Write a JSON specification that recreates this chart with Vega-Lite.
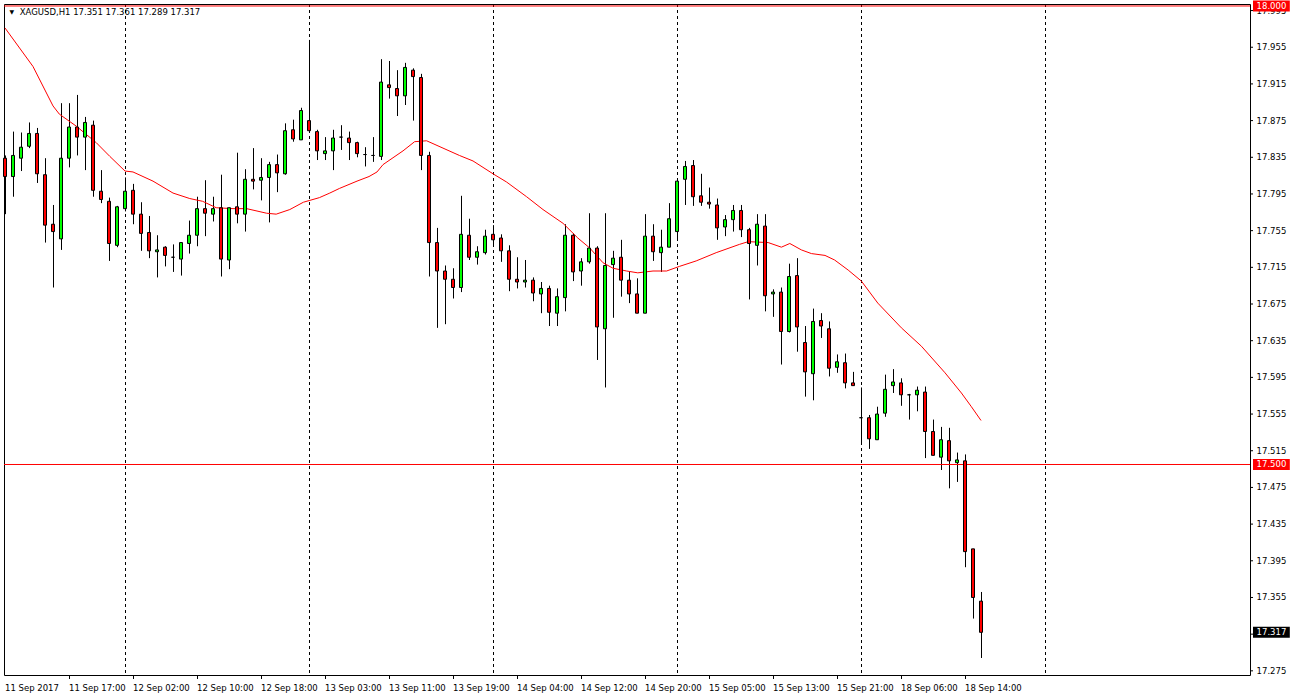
{
  "$schema": "https://vega.github.io/schema/vega-lite/v6.json",
  "width": 1246,
  "height": 671,
  "autosize": {"type": "none"},
  "padding": {"left": 4, "top": 4, "right": 43, "bottom": 23},
  "background": "white",
  "config": {"view": {"stroke": "black", "strokeWidth": 1}, "font": "DejaVu Sans"},
  "datasets": {
    "candles": [
      {"i":0,"o":17.834,"h":17.837,"l":17.773,"c":17.814},
      {"i":1,"o":17.814,"h":17.863,"l":17.792,"c":17.837},
      {"i":2,"o":17.834,"h":17.862,"l":17.820,"c":17.846},
      {"i":3,"o":17.847,"h":17.873,"l":17.845,"c":17.861},
      {"i":4,"o":17.861,"h":17.867,"l":17.807,"c":17.817},
      {"i":5,"o":17.816,"h":17.834,"l":17.742,"c":17.761},
      {"i":6,"o":17.762,"h":17.783,"l":17.693,"c":17.754},
      {"i":7,"o":17.746,"h":17.894,"l":17.734,"c":17.834},
      {"i":8,"o":17.834,"h":17.894,"l":17.824,"c":17.868},
      {"i":9,"o":17.868,"h":17.903,"l":17.837,"c":17.857},
      {"i":10,"o":17.857,"h":17.879,"l":17.821,"c":17.873},
      {"i":11,"o":17.870,"h":17.875,"l":17.792,"c":17.799},
      {"i":12,"o":17.798,"h":17.821,"l":17.785,"c":17.789},
      {"i":13,"o":17.787,"h":17.791,"l":17.722,"c":17.741},
      {"i":14,"o":17.739,"h":17.782,"l":17.737,"c":17.781},
      {"i":15,"o":17.779,"h":17.813,"l":17.776,"c":17.798},
      {"i":16,"o":17.799,"h":17.806,"l":17.762,"c":17.773},
      {"i":17,"o":17.773,"h":17.786,"l":17.733,"c":17.752},
      {"i":18,"o":17.753,"h":17.771,"l":17.725,"c":17.733},
      {"i":19,"o":17.732,"h":17.750,"l":17.704,"c":17.734},
      {"i":20,"o":17.737,"h":17.738,"l":17.716,"c":17.728},
      {"i":21,"o":17.726,"h":17.740,"l":17.710,"c":17.726},
      {"i":22,"o":17.724,"h":17.742,"l":17.706,"c":17.742},
      {"i":23,"o":17.741,"h":17.766,"l":17.730,"c":17.750},
      {"i":24,"o":17.750,"h":17.792,"l":17.738,"c":17.779},
      {"i":25,"o":17.779,"h":17.810,"l":17.749,"c":17.774},
      {"i":26,"o":17.773,"h":17.792,"l":17.765,"c":17.779},
      {"i":27,"o":17.780,"h":17.816,"l":17.705,"c":17.724},
      {"i":28,"o":17.723,"h":17.780,"l":17.713,"c":17.780},
      {"i":29,"o":17.781,"h":17.840,"l":17.763,"c":17.773},
      {"i":30,"o":17.773,"h":17.822,"l":17.754,"c":17.811},
      {"i":31,"o":17.811,"h":17.845,"l":17.800,"c":17.809},
      {"i":32,"o":17.810,"h":17.834,"l":17.788,"c":17.813},
      {"i":33,"o":17.813,"h":17.830,"l":17.764,"c":17.827},
      {"i":34,"o":17.827,"h":17.838,"l":17.797,"c":17.818},
      {"i":35,"o":17.817,"h":17.872,"l":17.816,"c":17.864},
      {"i":36,"o":17.865,"h":17.876,"l":17.852,"c":17.855},
      {"i":37,"o":17.854,"h":17.889,"l":17.854,"c":17.886},
      {"i":38,"o":17.875,"h":17.963,"l":17.862,"c":17.864},
      {"i":39,"o":17.863,"h":17.865,"l":17.832,"c":17.842},
      {"i":40,"o":17.839,"h":17.857,"l":17.832,"c":17.842},
      {"i":41,"o":17.842,"h":17.865,"l":17.821,"c":17.856},
      {"i":42,"o":17.857,"h":17.870,"l":17.843,"c":17.857},
      {"i":43,"o":17.856,"h":17.863,"l":17.832,"c":17.851},
      {"i":44,"o":17.851,"h":17.852,"l":17.835,"c":17.839},
      {"i":45,"o":17.838,"h":17.846,"l":17.825,"c":17.838},
      {"i":46,"o":17.837,"h":17.857,"l":17.830,"c":17.837},
      {"i":47,"o":17.836,"h":17.942,"l":17.832,"c":17.917},
      {"i":48,"o":17.914,"h":17.940,"l":17.899,"c":17.911},
      {"i":49,"o":17.910,"h":17.930,"l":17.880,"c":17.902},
      {"i":50,"o":17.902,"h":17.938,"l":17.892,"c":17.933},
      {"i":51,"o":17.930,"h":17.932,"l":17.875,"c":17.923},
      {"i":52,"o":17.922,"h":17.926,"l":17.821,"c":17.837},
      {"i":53,"o":17.837,"h":17.841,"l":17.705,"c":17.742},
      {"i":54,"o":17.742,"h":17.758,"l":17.649,"c":17.711},
      {"i":55,"o":17.711,"h":17.717,"l":17.653,"c":17.702},
      {"i":56,"o":17.702,"h":17.714,"l":17.681,"c":17.693},
      {"i":57,"o":17.693,"h":17.793,"l":17.688,"c":17.751},
      {"i":58,"o":17.750,"h":17.768,"l":17.723,"c":17.726},
      {"i":59,"o":17.726,"h":17.738,"l":17.718,"c":17.732},
      {"i":60,"o":17.731,"h":17.756,"l":17.729,"c":17.749},
      {"i":61,"o":17.751,"h":17.761,"l":17.738,"c":17.745},
      {"i":62,"o":17.747,"h":17.751,"l":17.721,"c":17.733},
      {"i":63,"o":17.733,"h":17.739,"l":17.689,"c":17.702},
      {"i":64,"o":17.702,"h":17.726,"l":17.692,"c":17.699},
      {"i":65,"o":17.699,"h":17.723,"l":17.693,"c":17.701},
      {"i":66,"o":17.701,"h":17.704,"l":17.678,"c":17.687},
      {"i":67,"o":17.686,"h":17.699,"l":17.665,"c":17.692},
      {"i":68,"o":17.692,"h":17.695,"l":17.651,"c":17.666},
      {"i":69,"o":17.665,"h":17.692,"l":17.651,"c":17.683},
      {"i":70,"o":17.682,"h":17.762,"l":17.667,"c":17.750},
      {"i":71,"o":17.750,"h":17.752,"l":17.700,"c":17.710},
      {"i":72,"o":17.711,"h":17.725,"l":17.695,"c":17.721},
      {"i":73,"o":17.721,"h":17.774,"l":17.719,"c":17.736},
      {"i":74,"o":17.736,"h":17.738,"l":17.614,"c":17.650},
      {"i":75,"o":17.648,"h":17.774,"l":17.584,"c":17.717},
      {"i":76,"o":17.718,"h":17.733,"l":17.660,"c":17.725},
      {"i":77,"o":17.726,"h":17.745,"l":17.683,"c":17.701},
      {"i":78,"o":17.701,"h":17.711,"l":17.676,"c":17.686},
      {"i":79,"o":17.686,"h":17.703,"l":17.665,"c":17.665},
      {"i":80,"o":17.665,"h":17.773,"l":17.665,"c":17.749},
      {"i":81,"o":17.749,"h":17.762,"l":17.722,"c":17.732},
      {"i":82,"o":17.731,"h":17.756,"l":17.710,"c":17.737},
      {"i":83,"o":17.737,"h":17.785,"l":17.737,"c":17.768},
      {"i":84,"o":17.754,"h":17.810,"l":17.745,"c":17.809},
      {"i":85,"o":17.811,"h":17.831,"l":17.783,"c":17.825},
      {"i":86,"o":17.826,"h":17.832,"l":17.782,"c":17.792},
      {"i":87,"o":17.793,"h":17.817,"l":17.782,"c":17.786},
      {"i":88,"o":17.786,"h":17.802,"l":17.779,"c":17.784},
      {"i":89,"o":17.783,"h":17.790,"l":17.745,"c":17.758},
      {"i":90,"o":17.759,"h":17.772,"l":17.749,"c":17.767},
      {"i":91,"o":17.767,"h":17.783,"l":17.754,"c":17.777},
      {"i":92,"o":17.777,"h":17.783,"l":17.748,"c":17.756},
      {"i":93,"o":17.756,"h":17.758,"l":17.680,"c":17.741},
      {"i":94,"o":17.739,"h":17.773,"l":17.717,"c":17.762},
      {"i":95,"o":17.760,"h":17.773,"l":17.667,"c":17.684},
      {"i":96,"o":17.686,"h":17.691,"l":17.661,"c":17.688},
      {"i":97,"o":17.688,"h":17.693,"l":17.609,"c":17.645},
      {"i":98,"o":17.645,"h":17.719,"l":17.644,"c":17.705},
      {"i":99,"o":17.706,"h":17.725,"l":17.623,"c":17.650},
      {"i":100,"o":17.633,"h":17.651,"l":17.574,"c":17.601},
      {"i":101,"o":17.599,"h":17.670,"l":17.570,"c":17.656},
      {"i":102,"o":17.657,"h":17.665,"l":17.638,"c":17.651},
      {"i":103,"o":17.648,"h":17.656,"l":17.596,"c":17.605},
      {"i":104,"o":17.606,"h":17.620,"l":17.600,"c":17.612},
      {"i":105,"o":17.611,"h":17.621,"l":17.583,"c":17.589},
      {"i":106,"o":17.589,"h":17.601,"l":17.586,"c":17.586},
      {"i":107,"o":17.551,"h":17.584,"l":17.522,"c":17.551},
      {"i":108,"o":17.551,"h":17.554,"l":17.517,"c":17.528},
      {"i":109,"o":17.527,"h":17.563,"l":17.527,"c":17.555},
      {"i":110,"o":17.556,"h":17.598,"l":17.552,"c":17.582},
      {"i":111,"o":17.586,"h":17.604,"l":17.578,"c":17.590},
      {"i":112,"o":17.589,"h":17.594,"l":17.564,"c":17.576},
      {"i":113,"o":17.576,"h":17.577,"l":17.549,"c":17.576},
      {"i":114,"o":17.576,"h":17.585,"l":17.558,"c":17.581},
      {"i":115,"o":17.579,"h":17.585,"l":17.507,"c":17.536},
      {"i":116,"o":17.536,"h":17.549,"l":17.510,"c":17.510},
      {"i":117,"o":17.508,"h":17.541,"l":17.494,"c":17.527},
      {"i":118,"o":17.526,"h":17.540,"l":17.474,"c":17.504},
      {"i":119,"o":17.502,"h":17.513,"l":17.481,"c":17.505},
      {"i":120,"o":17.504,"h":17.511,"l":17.388,"c":17.405},
      {"i":121,"o":17.408,"h":17.408,"l":17.332,"c":17.355},
      {"i":122,"o":17.351,"h":17.361,"l":17.289,"c":17.317}
    ],
    "ma": [
      {"i":0,"v":17.976},{"i":3.5,"v":17.934},{"i":6,"v":17.891},{"i":6.8,"v":17.882},
      {"i":8.9,"v":17.869},{"i":11.4,"v":17.851},{"i":13.1,"v":17.836},{"i":15,"v":17.820},
      {"i":16,"v":17.819},{"i":18.5,"v":17.809},{"i":21,"v":17.796},{"i":23.1,"v":17.790},
      {"i":24.7,"v":17.787},{"i":26.4,"v":17.780},{"i":28.5,"v":17.779},{"i":30.2,"v":17.779},
      {"i":32.7,"v":17.774},{"i":33.9,"v":17.773},{"i":35.6,"v":17.778},{"i":37.3,"v":17.786},
      {"i":38.1,"v":17.788},{"i":39.3,"v":17.791},{"i":40.6,"v":17.796},{"i":41.8,"v":17.801},
      {"i":44,"v":17.809},{"i":45.5,"v":17.814},{"i":46.5,"v":17.819},{"i":47.25,"v":17.827},
      {"i":49.75,"v":17.842},{"i":51.2,"v":17.852},{"i":52.7,"v":17.853},{"i":54.75,"v":17.845},
      {"i":56.8,"v":17.837},{"i":58.5,"v":17.831},{"i":61,"v":17.817},{"i":62.7,"v":17.808},
      {"i":65.2,"v":17.792},{"i":67.25,"v":17.778},{"i":69.75,"v":17.763},{"i":71.6,"v":17.747},
      {"i":73.1,"v":17.736},{"i":74.75,"v":17.720},{"i":76,"v":17.714},{"i":77.7,"v":17.711},
      {"i":79.1,"v":17.709},{"i":81,"v":17.711},{"i":82.7,"v":17.711},{"i":84.3,"v":17.716},
      {"i":86.4,"v":17.722},{"i":88.9,"v":17.731},{"i":91.8,"v":17.740},{"i":92.9,"v":17.743},
      {"i":95.4,"v":17.742},{"i":97.05,"v":17.737},{"i":98.1,"v":17.741},{"i":99.55,"v":17.734},
      {"i":100.8,"v":17.730},{"i":102.5,"v":17.728},{"i":103.7,"v":17.723},{"i":105.4,"v":17.712},
      {"i":107.05,"v":17.700},{"i":109.1,"v":17.676},{"i":112.05,"v":17.649},{"i":114.55,"v":17.629},
      {"i":117.5,"v":17.600},{"i":119.55,"v":17.578},{"i":120.8,"v":17.563},{"i":122,"v":17.548}
    ],
    "days": [{"i":15},{"i":38},{"i":61},{"i":84},{"i":107},{"i":130}],
    "levels": [{"p":18.0,"kind":"level"},{"p":17.5,"kind":"level"},{"p":17.317,"kind":"last"}],
    "xticks": [
      {"i":0,"label":"11 Sep 2017"},{"i":8,"label":"11 Sep 17:00"},{"i":16,"label":"12 Sep 02:00"},
      {"i":24,"label":"12 Sep 10:00"},{"i":32,"label":"12 Sep 18:00"},{"i":40,"label":"13 Sep 03:00"},
      {"i":48,"label":"13 Sep 11:00"},{"i":56,"label":"13 Sep 19:00"},{"i":64,"label":"14 Sep 04:00"},
      {"i":72,"label":"14 Sep 12:00"},{"i":80,"label":"14 Sep 20:00"},{"i":88,"label":"15 Sep 05:00"},
      {"i":96,"label":"15 Sep 13:00"},{"i":104,"label":"15 Sep 21:00"},{"i":112,"label":"18 Sep 06:00"},
      {"i":120,"label":"18 Sep 14:00"}
    ],
    "yticks": [
      {"p":17.275},{"p":17.315},{"p":17.355},{"p":17.395},{"p":17.435},{"p":17.475},{"p":17.515},
      {"p":17.555},{"p":17.595},{"p":17.635},{"p":17.675},{"p":17.715},{"p":17.755},{"p":17.795},
      {"p":17.835},{"p":17.875},{"p":17.915},{"p":17.955},{"p":17.995}
    ]
  },
  "layer": [
    {
      "data": {"name": "candles"},
      "mark": {"type": "rule", "color": "black", "strokeWidth": 1, "xOffset": 0.5},
      "encoding": {
        "x": {"field": "i", "type": "quantitative", "scale": {"domain": [-0.125, 155.625], "nice": false, "zero": false, "padding": 0}, "axis": null},
        "y": {"field": "l", "type": "quantitative", "scale": {"domain": [17.27046, 18.00215], "nice": false, "zero": false, "padding": 0}, "axis": null},
        "y2": {"field": "h"}
      }
    },
    {
      "data": {"name": "days"},
      "mark": {"type": "rule", "color": "black", "strokeWidth": 1, "strokeDash": [3, 3], "xOffset": 0.5},
      "encoding": {
        "x": {"field": "i", "type": "quantitative", "axis": null}
      }
    },
    {
      "data": {"name": "levels"},
      "transform": [{"filter": "datum.kind == 'level'"}],
      "mark": {"type": "rule", "color": "#ff0000", "strokeWidth": 1},
      "encoding": {
        "y": {"field": "p", "type": "quantitative", "axis": null}
      }
    },
    {
      "data": {"name": "ma"},
      "mark": {"type": "line", "color": "#ff0000", "strokeWidth": 1},
      "encoding": {
        "x": {"field": "i", "type": "quantitative", "axis": null},
        "y": {"field": "v", "type": "quantitative", "axis": null}
      }
    },
    {
      "data": {"name": "candles"},
      "mark": {"type": "bar", "orient": "vertical", "size": 3, "stroke": "black", "strokeWidth": 1},
      "encoding": {
        "x": {"field": "i", "type": "quantitative", "axis": null},
        "y": {"field": "o", "type": "quantitative", "axis": null},
        "y2": {"field": "c"},
        "color": {"condition": {"test": "datum.c > datum.o", "value": "#00ff00"}, "value": "#ff0000"}
      }
    },
    {
      "data": {"name": "xticks"},
      "transform": [{"filter": "datum.i > 0"}],
      "mark": {"type": "rule", "color": "black", "strokeWidth": 1, "xOffset": 0.5},
      "encoding": {
        "x": {"field": "i", "type": "quantitative", "axis": null},
        "y": {"datum": 17.27046, "type": "quantitative", "axis": null},
        "y2": {"datum": 17.2661}
      }
    },
    {
      "data": {"name": "xticks"},
      "mark": {"type": "text", "align": "left", "baseline": "alphabetic", "font": "DejaVu Sans", "fontSize": 8.5, "color": "black"},
      "encoding": {
        "x": {"field": "i", "type": "quantitative", "axis": null},
        "y": {"datum": 17.2534, "type": "quantitative", "axis": null},
        "text": {"field": "label"}
      }
    },
    {
      "data": {"name": "yticks"},
      "mark": {"type": "rule", "color": "black", "strokeWidth": 1},
      "encoding": {
        "x": {"datum": 155.625, "type": "quantitative", "axis": null},
        "x2": {"datum": 156.0},
        "y": {"field": "p", "type": "quantitative", "axis": null}
      }
    },
    {
      "data": {"name": "yticks"},
      "mark": {"type": "text", "align": "left", "baseline": "middle", "font": "DejaVu Sans", "fontSize": 8.5, "color": "black"},
      "encoding": {
        "x": {"datum": 156.45, "type": "quantitative", "axis": null},
        "y": {"field": "p", "type": "quantitative", "axis": null},
        "text": {"field": "p", "type": "quantitative", "format": ".3f"}
      }
    },
    {
      "data": {"name": "levels"},
      "mark": {"type": "bar", "orient": "horizontal", "size": 11},
      "encoding": {
        "x": {"datum": 156.0, "type": "quantitative", "axis": null},
        "x2": {"datum": 160.6},
        "y": {"field": "p", "type": "quantitative", "axis": null},
        "color": {"condition": {"test": "datum.kind == 'last'", "value": "black"}, "value": "#ff0000"}
      }
    },
    {
      "data": {"name": "levels"},
      "mark": {"type": "text", "align": "left", "baseline": "middle", "font": "DejaVu Sans", "fontSize": 8.5, "color": "white"},
      "encoding": {
        "x": {"datum": 156.45, "type": "quantitative", "axis": null},
        "y": {"field": "p", "type": "quantitative", "axis": null},
        "text": {"field": "p", "type": "quantitative", "format": ".3f"}
      }
    },
    {
      "data": {"values": [{"label": "XAGUSD,H1  17.351 17.361 17.289 17.317"}]},
      "mark": {"type": "text", "align": "left", "baseline": "middle", "font": "DejaVu Sans", "fontSize": 8.5, "color": "black"},
      "encoding": {
        "x": {"datum": 1.84, "type": "quantitative", "axis": null},
        "y": {"datum": 17.993, "type": "quantitative", "axis": null},
        "text": {"field": "label"}
      }
    },
    {
      "data": {"values": [{"label": "▼"}]},
      "mark": {"type": "text", "align": "center", "baseline": "middle", "font": "DejaVu Sans", "fontSize": 6, "color": "black"},
      "encoding": {
        "x": {"datum": 0.84, "type": "quantitative", "axis": null},
        "y": {"datum": 17.993, "type": "quantitative", "axis": null},
        "text": {"field": "label"}
      }
    }
  ]
}
